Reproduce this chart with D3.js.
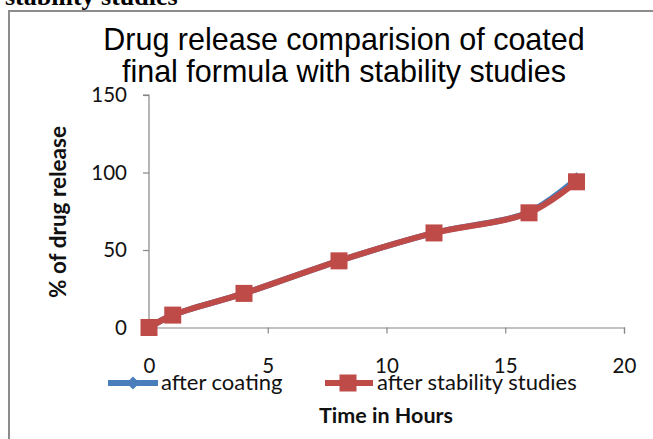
<!DOCTYPE html>
<html><head><meta charset="utf-8">
<script src="https://cdn.jsdelivr.net/npm/d3@7"></script>
<style>
html,body{margin:0;padding:0;background:#fff;overflow:hidden}
svg{display:block}
</style></head>
<body>
<svg id="chart" width="653" height="439"></svg>
<script>
// ---- data ----
const hours = [0, 1, 4, 8, 12, 16, 18];
const afterCoating = [0, 8, 22, 43, 61, 74.5, 96];
const afterStability = [0, 8, 22, 43, 61, 74, 94];
const xTicks = [0, 5, 10, 15, 20];
const yTicks = [0, 50, 100, 150];
const seriesNames = ["after coating", "after stability studies"];
const titleLines = ["Drug release comparision of coated", "final formula with stability studies"];
const xTitle = "Time in Hours";
const yTitle = "% of drug release";
const captionTail = "stability studies";

const blue = "#4A7EBB", red = "#BE4B48", axisCol = "#868686";
const labelFont = "Lato, 'Open Sans', sans-serif";

const svg = d3.select("#chart");

// caption fragment cut at top
svg.append("text").attr("x", 5).attr("y", 5)
  .attr("font-family", "'Liberation Serif', 'Times New Roman', serif")
  .attr("font-weight", "bold").attr("font-size", 26).attr("fill", "#000")
  .text(captionTail);

// chart frame
svg.append("rect").attr("x", 9).attr("y", 11).attr("width", 700).attr("height", 500)
  .attr("fill", "#fff").attr("stroke", "#8c8c8c").attr("stroke-width", 2);

// title
const title = svg.append("text").attr("text-anchor", "middle")
  .attr("font-family", "'Liberation Sans', Arial, sans-serif")
  .attr("font-size", 30.5).attr("fill", "#000");
titleLines.forEach((t, i) => {
  title.append("tspan").attr("x", 344).attr("y", 50 + i * 32).text(t);
});

// scales
const x = d3.scaleLinear().domain([0, 20]).range([149, 624]);
const y = d3.scaleLinear().domain([0, 150]).range([327.5, 95]);

// axes
const gy = svg.append("g").attr("transform", `translate(${x(0)},0)`)
  .call(d3.axisLeft(y).tickValues(yTicks).tickSize(6).tickPadding(16).tickFormat(d3.format("d")));
const gx = svg.append("g").attr("transform", `translate(0,${y(0)})`)
  .call(d3.axisBottom(x).tickValues(xTicks).tickSize(6).tickPadding(25).tickFormat(d3.format("d")));
[gx, gy].forEach(g => {
  g.select(".domain").attr("stroke", axisCol).attr("stroke-width", 1.2);
  g.selectAll(".tick line").attr("stroke", axisCol).attr("stroke-width", 1.2);
  g.selectAll(".tick text").attr("font-family", labelFont).attr("font-size", 20.5).attr("fill", "#111");
});
gy.select(".domain").attr("d", `M-6,${y(150)}H0V${y(0)}`);

// axis titles
svg.append("text").attr("transform", `translate(66,212) rotate(-90)`)
  .attr("text-anchor", "middle").attr("font-family", labelFont)
  .attr("font-weight", "bold").attr("font-size", 22.5).attr("fill", "#111").text(yTitle);
svg.append("text").attr("x", 386).attr("y", 423)
  .attr("text-anchor", "middle").attr("font-family", labelFont)
  .attr("font-weight", "bold").attr("font-size", 21.5).attr("fill", "#111").text(xTitle);

// lines
const line = d3.line().x(d => x(d[0])).y(d => y(d[1])).curve(d3.curveCatmullRom.alpha(0.5));
const dataA = hours.map((h, i) => [h, afterCoating[i]]);
const dataB = hours.map((h, i) => [h, afterStability[i]]);

svg.append("path").datum(dataA).attr("d", line).attr("fill", "none")
  .attr("stroke", blue).attr("stroke-width", 6).attr("stroke-linejoin", "round");
svg.append("g").selectAll("path").data(dataA).join("path")
  .attr("d", d3.symbol(d3.symbolDiamond2, 110)())
  .attr("transform", d => `translate(${x(d[0])},${y(d[1])})`).attr("fill", blue);

svg.append("path").datum(dataB).attr("d", line).attr("fill", "none")
  .attr("stroke", red).attr("stroke-width", 6).attr("stroke-linejoin", "round");
const sq = 17;
svg.append("g").selectAll("rect").data(dataB).join("rect")
  .attr("x", d => x(d[0]) - sq / 2).attr("y", d => y(d[1]) - sq / 2)
  .attr("width", sq).attr("height", sq).attr("fill", red);

// legend
const legY = 383;
const leg = svg.append("g");
leg.append("line").attr("x1", 108).attr("x2", 158).attr("y1", legY).attr("y2", legY)
  .attr("stroke", blue).attr("stroke-width", 6);
leg.append("path").attr("d", d3.symbol(d3.symbolDiamond2, 110)())
  .attr("transform", `translate(133,${legY})`).attr("fill", blue);
leg.append("text").attr("x", 161).attr("y", legY + 7).attr("font-family", labelFont)
  .attr("font-size", 22).attr("fill", "#111").text(seriesNames[0]);
leg.append("line").attr("x1", 325).attr("x2", 373).attr("y1", legY).attr("y2", legY)
  .attr("stroke", red).attr("stroke-width", 6);
leg.append("rect").attr("x", 348 - sq / 2).attr("y", legY - sq / 2)
  .attr("width", sq).attr("height", sq).attr("fill", red);
leg.append("text").attr("x", 377).attr("y", legY + 7).attr("font-family", labelFont)
  .attr("font-size", 22).attr("fill", "#111").text(seriesNames[1]);
</script>
</body></html>
